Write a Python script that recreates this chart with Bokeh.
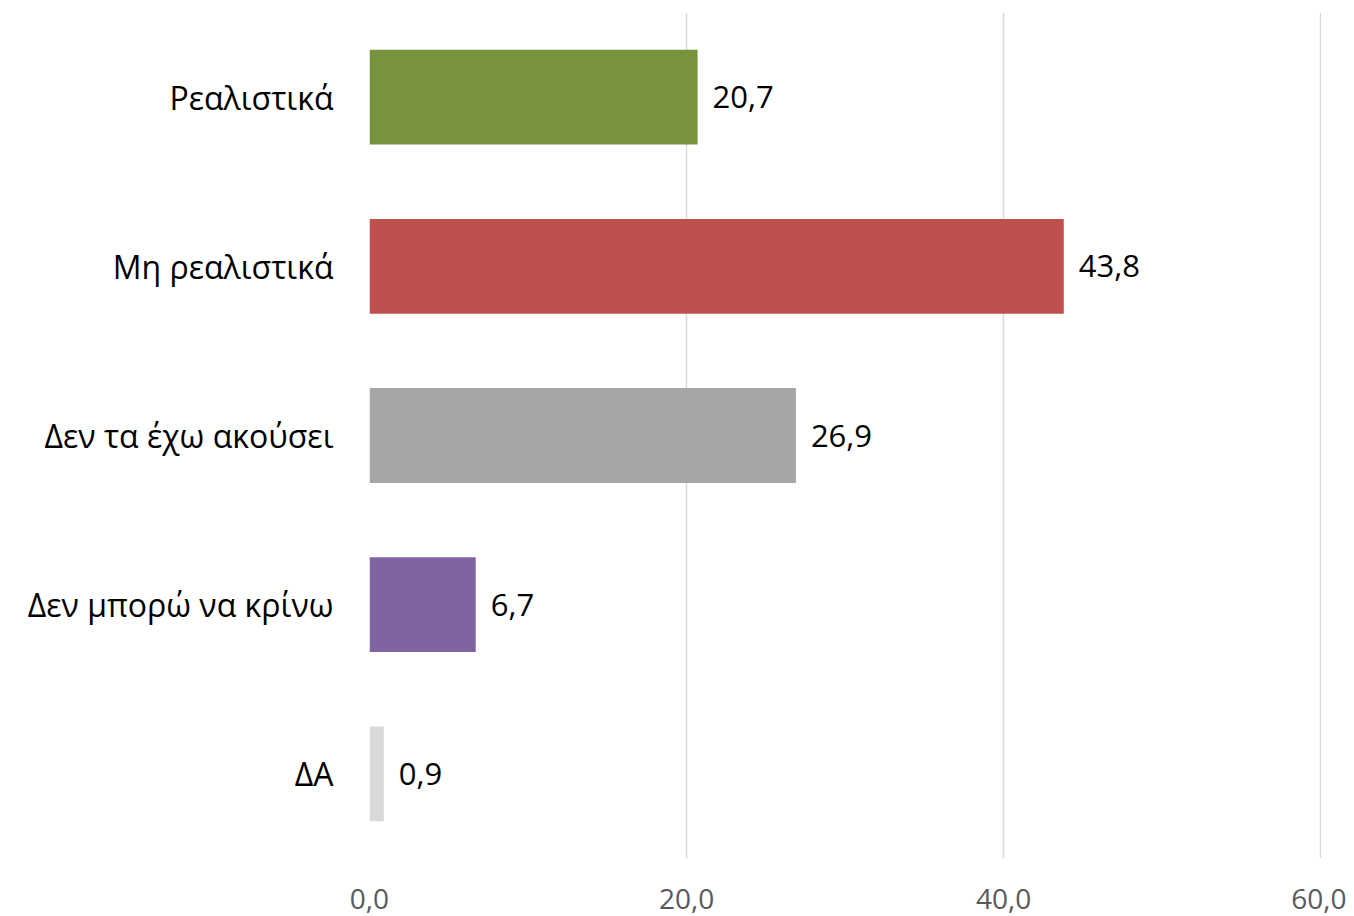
from bokeh.plotting import figure
from bokeh.models import ColumnDataSource, FactorRange, Range1d, FixedTicker, CustomJSTickFormatter, LabelSet
from bokeh.core.properties import value
from bokeh.embed import file_html
from bokeh.resources import INLINE

categories = ["Ρεαλιστικά", "Μη ρεαλιστικά", "Δεν τα έχω ακούσει", "Δεν μπορώ να κρίνω", "ΔΑ"]
values = [20.7, 43.8, 26.9, 6.7, 0.9]
colors = ["#77933C", "#C0504D", "#A6A6A6", "#8064A2", "#D9D9D9"]
x_ticks = [0, 20, 40, 60]

labels = [f"{v:.1f}".replace(".", ",") for v in values]
src = ColumnDataSource(dict(cat=categories, val=values, color=colors, label=labels))

p = figure(
    y_range=FactorRange(*reversed(categories)),
    x_range=Range1d(0, 60.06),
    width=1346, height=916,
    output_backend="svg", toolbar_location=None,
    min_border_left=369, min_border_right=25, min_border_top=12, min_border_bottom=58,
)
p.outline_line_color = None
p.background_fill_color = "white"
p.border_fill_color = "white"

p.hbar(y="cat", right="val", left=0, height=0.56, fill_color="color", line_color=None, source=src)

lbl = LabelSet(x="val", y="cat", text="label", source=src, x_offset=15,
               text_baseline="middle", text_align="left", text_font=value("Open Sans"),
               text_font_size="31px", text_color="#000000")
p.add_layout(lbl)

p.xaxis.ticker = FixedTicker(ticks=x_ticks)
p.xaxis.formatter = CustomJSTickFormatter(code="return tick.toFixed(1).replace('.', ',');")
p.xaxis.axis_line_color = None
p.xaxis.major_tick_line_color = None
p.xaxis.minor_tick_line_color = None
p.xaxis.major_label_text_font = "Open Sans"
p.xaxis.major_label_text_font_size = "28px"
p.xaxis.major_label_text_color = "#595959"
p.xaxis.major_label_standoff = 24

p.yaxis.axis_line_color = None
p.yaxis.major_tick_line_color = None
p.yaxis.minor_tick_line_color = None
p.yaxis.major_label_text_font = "Open Sans"
p.yaxis.major_label_text_font_size = "32px"
p.yaxis.major_label_text_color = "#000000"
p.yaxis.major_label_standoff = 30

p.xgrid.grid_line_color = "#D9D9D9"
p.xgrid.grid_line_width = 1.5
p.ygrid.grid_line_color = None

open("out.html", "w").write(file_html(p, INLINE))
